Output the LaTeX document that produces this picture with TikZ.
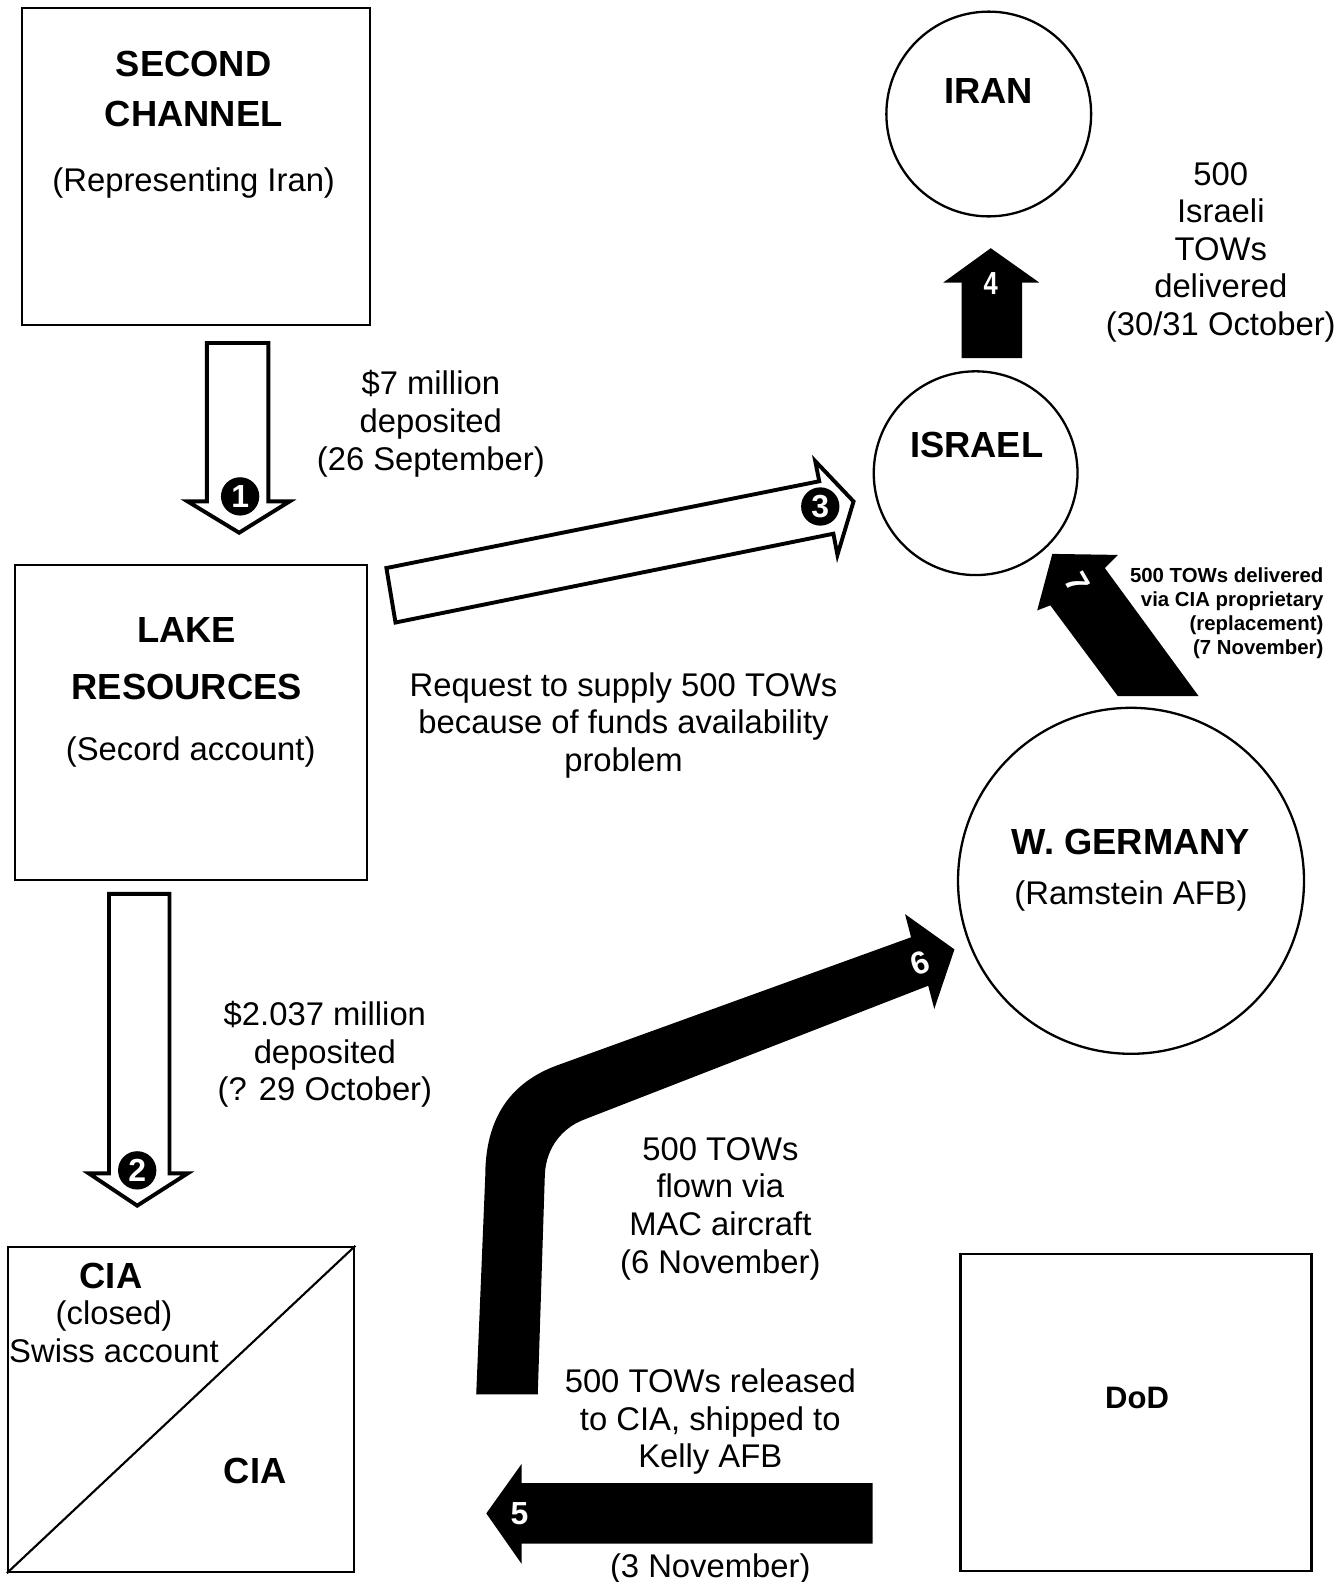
\documentclass[tikz,border=0pt]{standalone}
\usepackage{fontspec}
\setmainfont{Liberation Sans}
\usetikzlibrary{positioning}
\newcommand{\bdfont}{\fontsize{18.5}{21.2}\selectfont}
\newcommand{\hdfont}{\fontsize{20.5}{28.5}\selectfont\bfseries}
\newcommand{\smfont}{\fontsize{11.5}{13.6}\selectfont\bfseries}
\newcommand{\dgfont}{\fontsize{18}{18}\selectfont\bfseries}

\begin{document}
\begin{tikzpicture}[x=0.02cm, y=-0.02cm,
  box/.style={draw, line width=1.4pt, inner sep=0pt},
  place/.style={circle, draw, line width=1.3pt, inner sep=0pt},
  numdot/.style={circle, fill=black, text=white, inner sep=0pt, minimum size=0.76cm, font=\dgfont},
  digit/.style={text=white, inner sep=0pt, font=\dgfont},
  openarrow/.style={draw, line width=2.2pt, fill=white, line join=miter},
  blackarrow/.style={fill=black},
  txt/.style={inner sep=0pt, align=center, font=\bdfont, yshift=-0.06cm},
  head/.style={inner sep=0pt, align=center, font=\hdfont}]
\useasboundingbox (0,0) rectangle (1331,1568);

% Second channel
\node[box, minimum width=6.9cm, minimum height=6.28cm] (chan) at (194.5,165) {};
\node[head] (chantitle) at (192,88) {SECOND\\CHANNEL};
\node[txt] (chansub) at (192,178) {(Representing Iran)};

% Lake Resources
\node[box, minimum width=6.98cm, minimum height=6.24cm] (lake) at (189.5,716) {};
\node[head] (laketitle) at (185,653) {LAKE\\[3.5pt]RESOURCES};
\node[txt] (lakesub) at (189,742) {(Secord account)};

% CIA accounts
\node[box, minimum width=6.86cm, minimum height=6.44cm] (cia) at (179.5,1397) {};
\draw[line width=1.2pt] (cia.south west) -- (cia.north east);
\node[head] (ciaold) at (110,1265) {CIA};
\node[inner sep=0pt, align=center, font=\bdfont] (swiss) at (113,1320) {(closed)\\Swiss account};
\node[head] (cianew) at (253,1458) {CIA};

% DoD
\node[box, minimum width=6.96cm, minimum height=6.28cm] (dod) at (1126,1400) {};
\node[head, font=\fontsize{17.5}{20}\selectfont\bfseries] (dodtxt) at (1127,1386) {DoD};

% Iran
\node[place, minimum size=4.06cm] (iran) at (980,113) {};
\node[head] (irantxt) at (980,90) {IRAN};

% Israel
\node[place, minimum size=4.04cm] (israel) at (967,469) {};
\node[head] (israeltxt) at (968,441) {ISRAEL};

% W. Germany
\node[place, minimum size=6.86cm] (germany) at (1121,873) {};
\node[head] (germanytxt) at (1121,835) {W. GERMANY};
\node[txt] (ramstein) at (1121,885) {(Ramstein AFB)};

% 1: money to Lake
\draw[openarrow] (205,340) -- (266,340) -- (266,497) -- (287,497) -- (237,528) -- (186,497) -- (205,497) -- cycle;
\node[numdot] (n1) at (238,492) {1};
\node[txt] (paid1) at (427,417) {\$7 million\\deposited\\(26 September)};

% 2: money to CIA
\draw[openarrow] (108,886) -- (168,886) -- (168,1163) -- (186,1163) -- (136,1195) -- (88,1163) -- (108,1163) -- cycle;
\node[numdot] (n2) at (136,1160) {2};
\node[txt] (paid2) at (322,1042) {\$2.037 million\\deposited\\(? 29 October)};

% 3: request to Israel
\draw[openarrow] (383,563) -- (812,477) -- (808,457) -- (846,497) -- (830,550) -- (826,529) -- (392,617) -- cycle;
\node[numdot] (n3) at (813,502) {3};
\node[txt] (request) at (618,716) {Request to supply 500 TOWs\\because of funds availability\\problem};

% 4: Israel to Iran
\fill[blackarrow] (953,355) -- (953,280) -- (935,280) -- (982,246) -- (1030,280) -- (1013,280) -- (1013,355) -- cycle;
\node[digit, xscale=0.8] (n4) at (982,281) {4};
\node[txt] (israelitows) at (1210,247) {500\\Israeli\\TOWs\\delivered\\(30/31 October)};

% 5: DoD to CIA
\fill[blackarrow] (865,1470) -- (865,1530) -- (517,1530) -- (517,1550) -- (482,1500) -- (517,1451) -- (517,1470) -- cycle;
\node[digit] (n5) at (515,1500) {5};
\node[txt] (released) at (704,1406) {500 TOWs released\\to CIA, shipped to\\Kelly AFB};
\node[txt] (nov3) at (704,1552) {(3 November)};

% 6: flight to Germany
\fill[blackarrow] (472,1382) -- (481,1165) .. controls (481,1100) and (514,1070) .. (552,1056)
  -- (903,929) -- (897,906) -- (946,941) -- (926,1000) -- (920,977)
  -- (578,1110) .. controls (560,1117) and (541,1135) .. (540,1165) -- (533,1382) -- cycle;
\node[digit, rotate=20] (n6) at (912,955) {6};
\node[txt] (flown) at (714,1195) {500 TOWs\\flown via\\MAC aircraft\\(6 November)};

% 7: Germany to Israel
\fill[blackarrow] (1108,690) -- (1041,600) -- (1028,605) -- (1043,549) -- (1108,550) -- (1095,563) -- (1188,690) -- cycle;
\node[digit, rotate=-60] (n7) at (1068,578) {7};
\node[inner sep=0pt, align=right, font=\smfont, anchor=east] (replace) at (1312,608) {500 TOWs delivered\\via CIA proprietary\\(replacement)\hspace*{0.42cm}\\(7 November)};
\end{tikzpicture}
\end{document}
